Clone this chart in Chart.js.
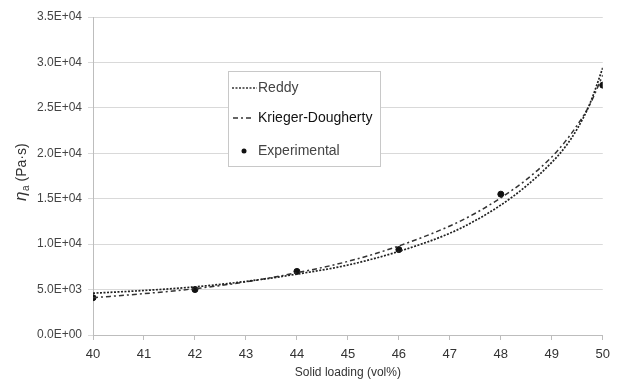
<!DOCTYPE html>
<html>
<head>
<meta charset="utf-8">
<script src="https://cdn.jsdelivr.net/npm/chart.js@4/dist/chart.umd.min.js"></script>
<style>
  html, body { margin: 0; padding: 0; background: #fff; }
  #wrap { width: 617px; height: 381px; }
</style>
</head>
<body>
<div id="wrap"><canvas id="grafica" width="617" height="381"></canvas></div>
<script>
// Carga de sólidos (vol%) y viscosidad aparente (Pa·s)
const xReddy = [40, 41, 42, 43, 44, 45, 46, 47, 47.5, 48, 48.5, 49, 49.25, 49.5, 49.75, 50];
const yReddy = [4600, 4900, 5300, 5900, 6700, 7700, 9200, 11200, 12600, 14300, 16400, 19000, 20600, 22700, 25500, 29400];

const xKrieger = [40, 41, 42, 43, 44, 45, 46, 47, 47.5, 48, 48.5, 49, 49.25, 49.5, 49.75, 50];
const yKrieger = [4100, 4550, 5100, 5850, 6850, 8100, 9800, 12000, 13400, 15100, 17100, 19600, 21200, 23100, 25400, 28600];

const xExp = [40, 42, 44, 46, 48, 50];
const yExp = [4100, 5000, 7000, 9400, 15500, 27500];

const xTicks = [40, 41, 42, 43, 44, 45, 46, 47, 48, 49, 50];
const yTicks = [0, 5000, 10000, 15000, 20000, 25000, 30000, 35000];

const FUENTE = "'Liberation Sans', Arial, sans-serif";

// pares {x, y} para el gráfico de dispersión
function puntos(xs, ys) {
  return xs.map((x, i) => ({ x: x, y: ys[i] }));
}

// formato tipo 3.5E+04
function formatoExp(v) {
  const partes = Number(v).toExponential(1).split('e');
  const e = parseInt(partes[1], 10);
  return partes[0] + 'E' + (e < 0 ? '-' : '+') + String(Math.abs(e)).padStart(2, '0');
}

// leyenda dentro del área del gráfico y título del eje Y con subíndice
const extras = {
  id: 'extras',
  afterDraw(chart) {
    const ctx = chart.ctx;
    ctx.save();

    // caja de la leyenda
    ctx.fillStyle = '#fff';
    ctx.fillRect(228, 71, 152, 95);
    ctx.strokeStyle = '#c8c8c8';
    ctx.lineWidth = 1;
    ctx.strokeRect(228.5, 71.5, 152, 95);

    ctx.textBaseline = 'middle';
    ctx.font = '14px ' + FUENTE;

    // Reddy
    ctx.strokeStyle = '#333';
    ctx.lineWidth = 1.5;
    ctx.setLineDash([2, 1.5]);
    ctx.beginPath();
    ctx.moveTo(232, 88);
    ctx.lineTo(257, 88);
    ctx.stroke();
    ctx.fillStyle = '#444';
    ctx.fillText('Reddy', 258, 88);

    // Krieger-Dougherty
    ctx.setLineDash([5, 3, 2, 3]);
    ctx.beginPath();
    ctx.moveTo(233, 118);
    ctx.lineTo(254, 118);
    ctx.stroke();
    ctx.setLineDash([]);
    ctx.fillStyle = '#111';
    ctx.fillText('Krieger-Dougherty', 258, 118);

    // Experimental
    ctx.fillStyle = '#111';
    ctx.beginPath();
    ctx.arc(244, 151, 2.5, 0, Math.PI * 2);
    ctx.fill();
    ctx.fillStyle = '#444';
    ctx.fillText('Experimental', 258, 151);

    // título del eje Y: ηa (Pa·s)
    ctx.translate(21, 201);
    ctx.rotate(-Math.PI / 2);
    ctx.textBaseline = 'alphabetic';
    ctx.fillStyle = '#333';
    let x = 0;
    ctx.font = 'italic 17px ' + FUENTE;
    ctx.fillText('η', x, 5);
    x += ctx.measureText('η').width + 0.5;
    ctx.font = '10px ' + FUENTE;
    ctx.fillText('a', x, 8);
    x += ctx.measureText('a').width + 4;
    ctx.font = '14px ' + FUENTE;
    ctx.fillText('(Pa·s)', x, 5);

    ctx.restore();
  }
};

new Chart(document.getElementById('grafica'), {
  type: 'scatter',
  data: {
    datasets: [
      {
        label: 'Reddy',
        data: puntos(xReddy, yReddy),
        showLine: true,
        borderColor: '#222',
        borderWidth: 1.7,
        borderDash: [2, 1.5],
        pointRadius: 0,
        cubicInterpolationMode: 'monotone'
      },
      {
        label: 'Krieger-Dougherty',
        data: puntos(xKrieger, yKrieger),
        showLine: true,
        borderColor: '#333',
        borderWidth: 1.5,
        borderDash: [5, 3, 2, 3],
        pointRadius: 0,
        cubicInterpolationMode: 'monotone'
      },
      {
        label: 'Experimental',
        data: puntos(xExp, yExp),
        showLine: false,
        pointRadius: 3,
        pointBackgroundColor: '#111',
        pointBorderColor: '#111'
      }
    ]
  },
  options: {
    responsive: false,
    animation: false,
    layout: { padding: { left: 0, right: 14, top: 17, bottom: 0 } },
    plugins: {
      legend: { display: false },
      tooltip: { enabled: false }
    },
    scales: {
      x: {
        type: 'linear',
        min: 40,
        max: 50,
        afterBuildTicks: (scale) => { scale.ticks = xTicks.map(v => ({ value: v })); },
        afterFit: (scale) => { scale.height = 46; },
        ticks: {
          color: '#333',
          font: { family: FUENTE, size: 13 },
          padding: 7,
          maxRotation: 0
        },
        grid: {
          drawOnChartArea: false,
          drawTicks: true,
          tickLength: 5,
          color: '#bdbdbd'
        },
        border: { color: '#bdbdbd' },
        title: {
          display: true,
          text: 'Solid loading (vol%)',
          color: '#333',
          font: { family: FUENTE, size: 12 },
          padding: { top: 0, bottom: 1 }
        }
      },
      y: {
        min: 0,
        max: 35000,
        afterBuildTicks: (scale) => { scale.ticks = yTicks.map(v => ({ value: v })); },
        afterFit: (scale) => { scale.width = 93; },
        ticks: {
          color: '#444',
          font: { family: FUENTE, size: 12 },
          padding: 6,
          callback: (v) => formatoExp(v)
        },
        grid: {
          color: '#d9d9d9',
          tickLength: 5
        },
        border: { color: '#bdbdbd' }
      }
    }
  },
  plugins: [extras]
});
</script>
</body>
</html>
